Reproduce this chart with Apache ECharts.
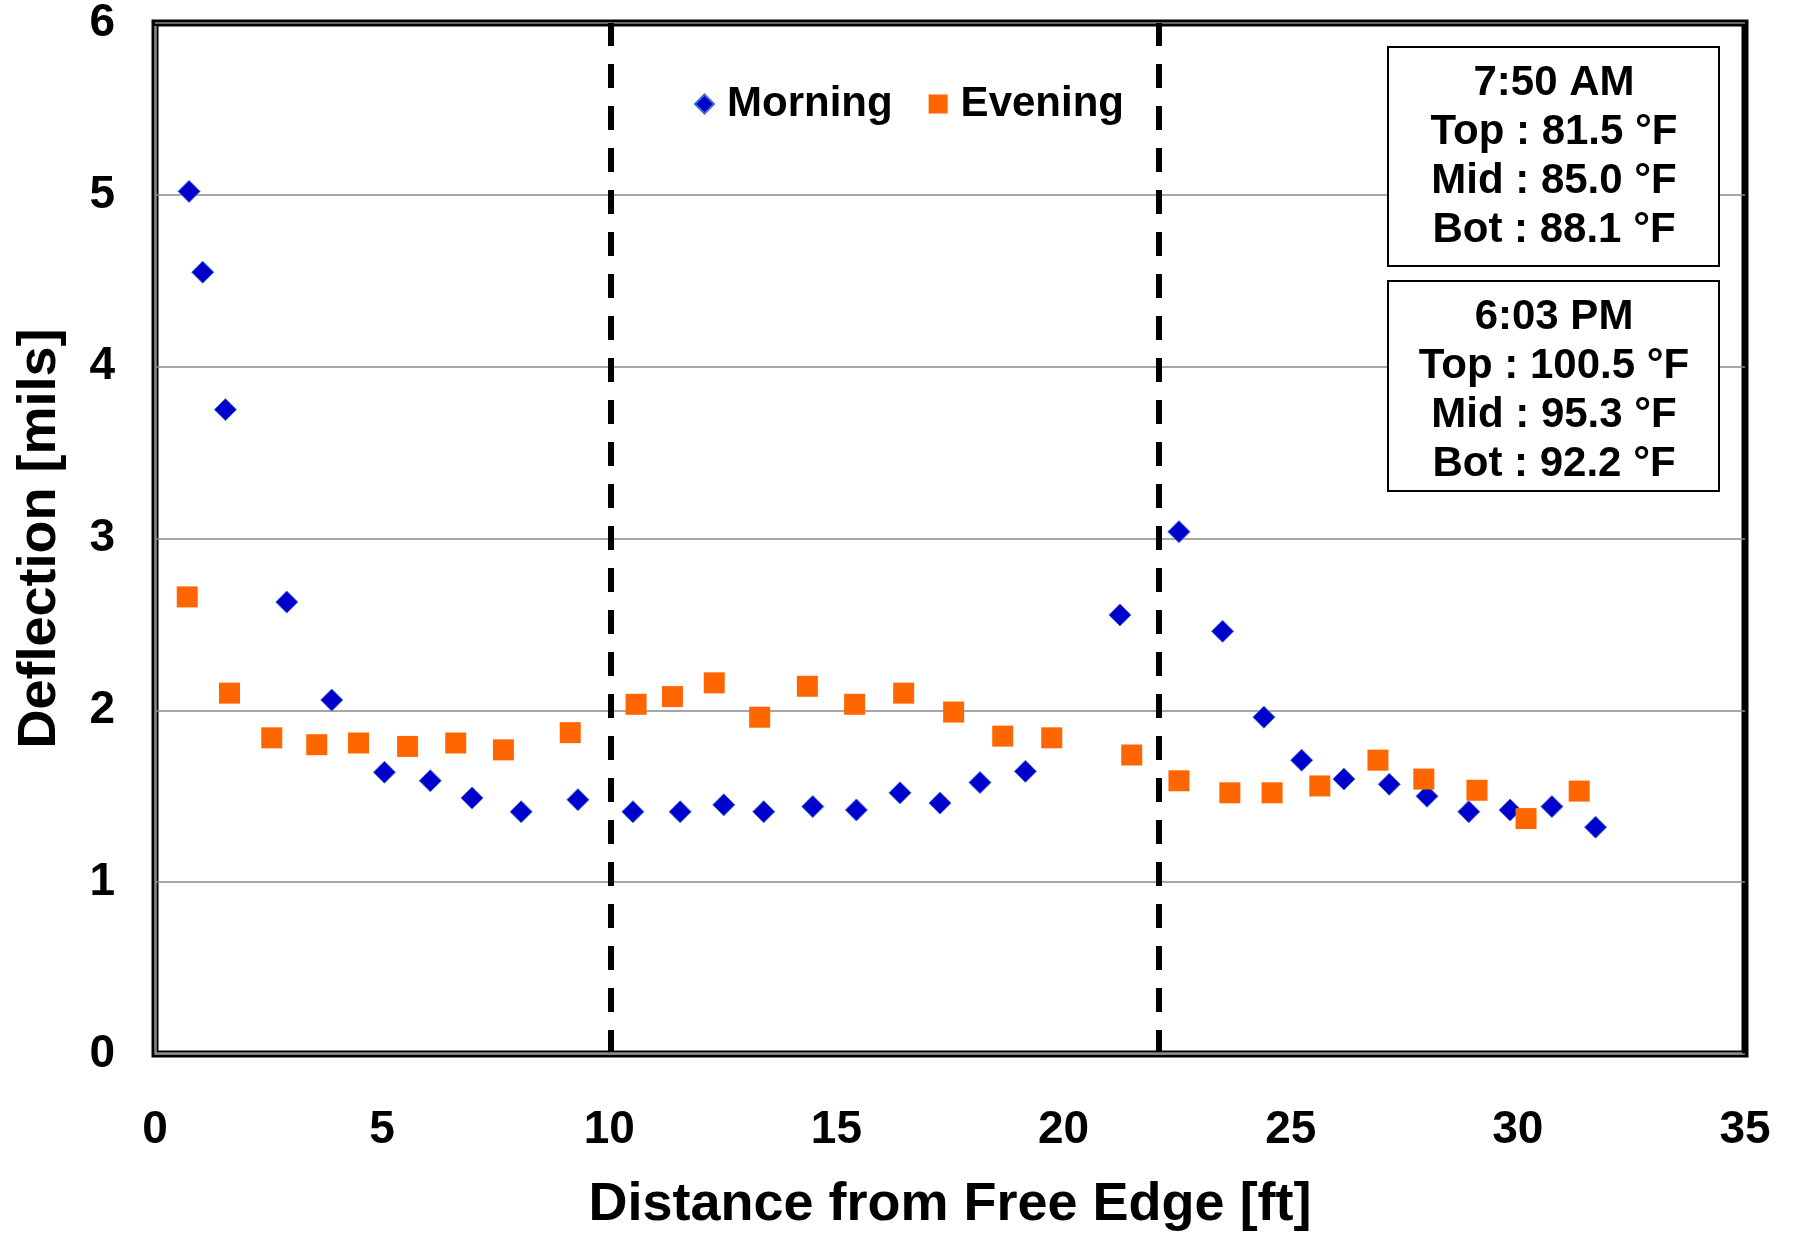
<!DOCTYPE html>
<html>
<head>
<meta charset="utf-8">
<script src="https://cdn.jsdelivr.net/npm/echarts@6/dist/echarts.min.js"></script>
<style>
html,body{margin:0;padding:0;background:#fff;}
#chart{width:1797px;height:1243px;}
</style>
</head>
<body>
<div id="chart"></div>
<script>
// ---- data ----
var morningX = [0.75,1.05,1.55,2.9,3.89,5.05,6.06,6.98,8.06,9.31,10.52,11.56,12.52,13.4,14.48,15.44,16.4,17.28,18.16,19.16,21.24,22.54,23.5,24.41,25.24,26.17,27.17,28.0,28.92,29.83,30.75,31.71];
var morningY = [5.02,4.55,3.75,2.63,2.06,1.64,1.59,1.49,1.41,1.48,1.41,1.41,1.45,1.41,1.44,1.42,1.52,1.46,1.58,1.645,2.555,3.04,2.46,1.96,1.71,1.60,1.57,1.50,1.41,1.42,1.44,1.32];
var eveningX = [0.71,1.64,2.57,3.56,4.48,5.56,6.62,7.67,9.14,10.59,11.39,12.31,13.31,14.36,15.4,16.48,17.58,18.66,19.74,21.5,22.54,23.66,24.59,25.64,26.92,27.93,29.1,30.18,31.35];
var eveningY = [2.66,2.10,1.84,1.80,1.81,1.79,1.81,1.77,1.87,2.035,2.08,2.16,1.96,2.14,2.035,2.10,1.99,1.85,1.84,1.74,1.59,1.52,1.52,1.56,1.71,1.60,1.535,1.37,1.53];
var dividerX = [10.04, 22.1];
var seriesNames = ['Morning', 'Evening'];
var morningBox = ['7:50 AM', 'Top : 81.5 °F', 'Mid : 85.0 °F', 'Bot : 88.1 °F'];
var eveningBox = ['6:03 PM', 'Top : 100.5 °F', 'Mid : 95.3 °F', 'Bot : 92.2 °F'];
var xTitle = 'Distance from Free Edge [ft]';
var yTitle = 'Deflection [mils]';
var xRange = [0, 35];
var yRange = [0, 6];

function pairs(xs, ys){ var out=[]; for(var i=0;i<xs.length;i++){ out.push([xs[i], ys[i]]); } return out; }

var FONT = '"Liberation Sans", Arial, sans-serif';
var chart = echarts.init(document.getElementById('chart'), null, {renderer:'canvas'});

function boxGraphic(id, lines, top, height, dy){
  return {
    id:id, type:'group', right: 77, top: top, z:100,
    children:[
      {type:'rect', z:100, shape:{x:0,y:0,width:331,height:height}, style:{fill:'#fff', stroke:'#000', lineWidth:2}},
      {type:'text', z:101, x:166, y:height/2+dy, style:{text: lines.join('\n'), font:'bold 42px '+FONT, fill:'#000', align:'center', verticalAlign:'middle', lineHeight:49}}
    ]
  };
}

chart.setOption({
  backgroundColor:'#fff',
  animation:false,
  grid:{left:155, right:52, top:23, bottom:189, show:true, borderColor:'#000', borderWidth:7, backgroundColor:'transparent'},
  legend:{
    left:689, top:78, itemGap:36, itemWidth:19, itemHeight:19,
    textStyle:{fontSize:42, fontWeight:'bold', fontFamily:FONT, color:'#000', padding:[0,0,0,8]},
    data:[{name:seriesNames[0], icon:'diamond'},{name:seriesNames[1], icon:'rect'}]
  },
  xAxis:{
    type:'value', min:xRange[0], max:xRange[1], interval:5,
    name:xTitle, nameLocation:'middle', nameGap:124,
    nameTextStyle:{fontSize:54, fontWeight:'bold', fontFamily:FONT, color:'#000'},
    axisLine:{show:false},
    axisTick:{show:false},
    axisLabel:{fontSize:46, fontWeight:'bold', fontFamily:FONT, color:'#000', margin:53},
    splitLine:{show:false}
  },
  yAxis:{
    type:'value', min:yRange[0], max:yRange[1], interval:1,
    name:yTitle, nameLocation:'middle', nameGap:88,
    nameTextStyle:{fontSize:54, fontWeight:'bold', fontFamily:FONT, color:'#000'},
    axisLine:{show:false},
    axisTick:{show:false},
    axisLabel:{fontSize:46, fontWeight:'bold', fontFamily:FONT, color:'#000', margin:40},
    splitLine:{show:true, lineStyle:{color:'#888', width:1.5}}
  },
  series:[
    {
      name:seriesNames[0], type:'scatter', symbol:'diamond', symbolSize:22, z:3,
      itemStyle:{color:'#0000CC', borderColor:'#3a6fd0', borderWidth:1, opacity:1},
      data:pairs(morningX, morningY),
      markLine:{
        silent:true, symbol:'none', z:1,
        label:{show:false},
        lineStyle:{color:'#000', width:6, type:[24,18], opacity:1},
        emphasis:{disabled:true},
        data: dividerX.map(function(v){ return {xAxis:v}; })
      }
    },
    {
      name:seriesNames[1], type:'scatter', symbol:'rect', symbolSize:21, z:4,
      itemStyle:{color:'#FF6600', opacity:1},
      data:pairs(eveningX, eveningY)
    }
  ],
  graphic:[
    boxGraphic('b1', morningBox, 46, 219, 0),
    boxGraphic('b2', eveningBox, 280, 210, 5)
  ]
});

// inner gray stripe of the plot frame (left and bottom), placed from the axes
var p0 = chart.convertToPixel({xAxisIndex:0, yAxisIndex:0}, [xRange[0], yRange[0]]);
var p1 = chart.convertToPixel({xAxisIndex:0, yAxisIndex:0}, [xRange[1], yRange[1]]);
chart.setOption({
  graphic:[
    {id:'stripe', type:'polyline', z:50, silent:true,
     shape:{points:[[p0[0]+0.5, p1[1]+3], [p0[0]+0.5, p0[1]-0.5], [p1[0]-3, p0[1]-0.5]]},
     style:{stroke:'#8a8a8a', lineWidth:2.5, fill:null}}
  ]
});
</script>
</body>
</html>
